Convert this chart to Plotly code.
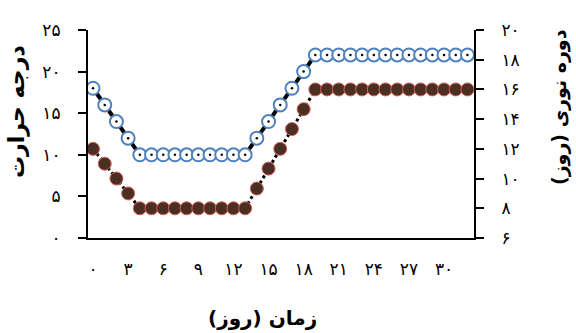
import plotly.graph_objects as go

days = list(range(33))
temperature = [18, 16, 14, 12, 10, 10, 10, 10, 10, 10, 10, 10, 10, 10, 12, 14, 16, 18, 20, 22,
               22, 22, 22, 22, 22, 22, 22, 22, 22, 22, 22, 22, 22]
photoperiod = [12, 11, 10, 9, 8, 8, 8, 8, 8, 8, 8, 8, 8, 8, 9.33, 10.67, 12, 13.33, 14.67, 16,
               16, 16, 16, 16, 16, 16, 16, 16, 16, 16, 16, 16, 16]
x_tickvals = [0, 3, 6, 9, 12, 15, 18, 21, 24, 27, 30]
x_ticktext = ["۰", "۳", "۶", "۹", "۱۲", "۱۵", "۱۸", "۲۱", "۲۴", "۲۷", "۳۰"]
y1_tickvals = [0, 5, 10, 15, 20, 25]
y1_ticktext = ["۰", "۵", "۱۰", "۱۵", "۲۰", "۲۵"]
y2_tickvals = [6, 8, 10, 12, 14, 16, 18, 20]
y2_ticktext = ["۶", "۸", "۱۰", "۱۲", "۱۴", "۱۶", "۱۸", "۲۰"]
x_title = "زمان (روز)"
y1_title = "درجه حرارت"
y2_title = "دوره نوری (روز)"

FONT = "DejaVu Sans"

fig = go.Figure()
# photoperiod (right axis)
fig.add_trace(go.Scatter(
    x=days, y=photoperiod, yaxis="y2", mode="lines+markers",
    line=dict(color="black", width=3, dash="dot"),
    marker=dict(symbol="circle", size=13, color="#4a2f22",
                line=dict(color="#d9605a", width=1)),
    showlegend=False))
# temperature (left axis)
fig.add_trace(go.Scatter(
    x=days, y=temperature, mode="lines+markers",
    line=dict(color="black", width=4),
    marker=dict(symbol="circle", size=13, color="white",
                line=dict(color="#4f81bd", width=2)),
    showlegend=False))
fig.add_trace(go.Scatter(
    x=days, y=temperature, mode="markers",
    marker=dict(symbol="circle", size=2.5, color="black"),
    showlegend=False))

fig.update_layout(
    width=576, height=333,
    margin=dict(l=88, r=102, t=30, b=95),
    paper_bgcolor="white", plot_bgcolor="white",
    font=dict(family=FONT, color="black"),
    xaxis=dict(range=[-0.43, 32.56], tickvals=x_tickvals, ticktext=x_ticktext,
               showline=True, linecolor="black", linewidth=2, showgrid=False,
               zeroline=False, ticks="", tickfont=dict(size=17),
               ticklabelstandoff=15),
    yaxis=dict(range=[0, 25], tickvals=y1_tickvals, ticktext=y1_ticktext,
               showline=True, linecolor="black", linewidth=2, showgrid=False,
               zeroline=False, ticks="outside", ticklen=8, tickwidth=2, tickcolor="black",
               tickfont=dict(size=17), ticklabelstandoff=14),
    yaxis2=dict(range=[6, 20], tickvals=y2_tickvals, ticktext=y2_ticktext,
                overlaying="y", side="right", anchor="x",
                showline=True, linecolor="black", linewidth=2, showgrid=False,
                zeroline=False, ticks="outside", ticklen=8, tickwidth=2, tickcolor="black",
                tickfont=dict(size=17), ticklabelstandoff=14),
    annotations=[
        dict(text="<b>" + x_title + "</b>", xref="paper", yref="paper",
             x=(262 - 88) / 386, y=(238 - 318) / 208, showarrow=False,
             xanchor="center", yanchor="middle", font=dict(size=20)),
        dict(text="<b>" + y1_title + "</b>", xref="paper", yref="paper",
             x=(17 - 88) / 386, y=(238 - 112) / 208, showarrow=False, textangle=-90,
             xanchor="center", yanchor="middle", font=dict(size=22)),
        dict(text="<b>" + y2_title + "</b>", xref="paper", yref="paper",
             x=(559 - 88) / 386, y=(238 - 107) / 208, showarrow=False, textangle=-90,
             xanchor="center", yanchor="middle", font=dict(size=19)),
    ],
)

fig.write_html("out.html")
